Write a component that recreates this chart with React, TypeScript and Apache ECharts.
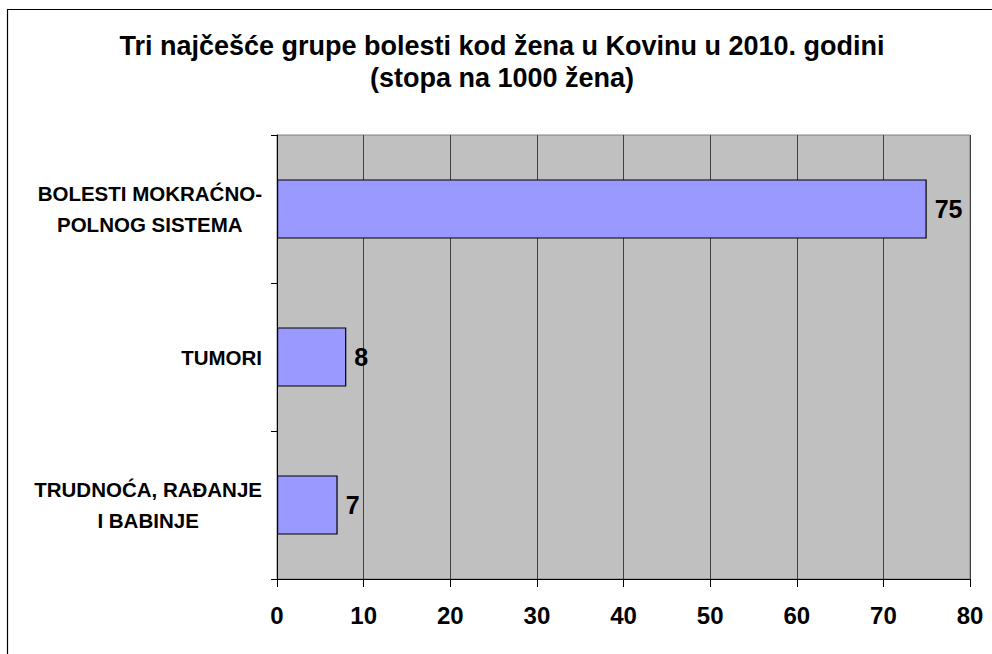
import React, { useEffect, useRef } from "react";
import * as echarts from "echarts";

const categories = [
  "BOLESTI MOKRAĆNO-\nPOLNOG SISTEMA",
  "TUMORI",
  "TRUDNOĆA, RAĐANJE\nI BABINJE",
];
const values = [75, 8, 7];
const titleLines = [
  "Tri najčešće grupe bolesti kod žena u Kovinu u 2010. godini",
  "(stopa na 1000 žena)",
];
const xMin = 0;
const xMax = 80;
const xStep = 10;

const FONT = "'Liberation Sans', Arial, sans-serif";

export default function App() {
  const ref = useRef<HTMLDivElement>(null);
  useEffect(() => {
    if (!ref.current) return;
    const chart = echarts.init(ref.current, null, { renderer: "svg" });
    chart.setOption({
      animation: false,
      backgroundColor: "#ffffff",
      textStyle: { fontFamily: FONT },
      title: {
        text: titleLines.join("\n"),
        left: 502,
        top: 30,
        padding: 0,
        textAlign: "center",
        textStyle: {
          fontFamily: FONT,
          fontSize: 27,
          fontWeight: "bold",
          color: "#000",
          lineHeight: 32,
        },
      },
      graphic: [
        {
          type: "rect",
          shape: { x: 7.5, y: 9.5, width: 1200, height: 1000 },
          style: { fill: "none", stroke: "#000", lineWidth: 1.2 },
          silent: true,
          z: 100,
        },
      ],
      grid: {
        left: 277,
        top: 135,
        right: 22,
        bottom: 75,
        show: true,
        backgroundColor: "#C0C0C0",
        borderColor: "#808080",
        borderWidth: 1,
      },
      xAxis: {
        type: "value",
        min: xMin,
        max: xMax,
        interval: xStep,
        axisLine: { show: true, lineStyle: { color: "#000", width: 1 } },
        axisTick: { show: true, length: 8, lineStyle: { color: "#000" } },
        splitLine: { show: true, lineStyle: { color: "#404040", width: 1 } },
        axisLabel: {
          margin: 24,
          fontFamily: FONT,
          fontSize: 24,
          fontWeight: "bold",
          color: "#000",
        },
      },
      yAxis: {
        type: "category",
        data: categories,
        inverse: true,
        axisLine: { show: true, lineStyle: { color: "#000", width: 1 } },
        axisTick: { show: true, length: 6, lineStyle: { color: "#000" } },
        splitLine: { show: false },
        axisLabel: {
          margin: 15,
          align: "right",
          fontFamily: FONT,
          fontSize: 20.5,
          fontWeight: "bold",
          color: "#000",
          lineHeight: 31,
          formatter: (v: string) =>
            v
              .split("\n")
              .map((l) => `{c|${l}}`)
              .join("\n"),
          rich: {
            c: {
              align: "center",
              fontFamily: FONT,
              fontSize: 20.5,
              fontWeight: "bold",
              color: "#000",
              lineHeight: 31,
            },
          },
        },
      },
      series: [
        {
          type: "bar",
          data: values,
          barWidth: "40%",
          itemStyle: { color: "#9999FF", borderColor: "#000", borderWidth: 1.2 },
          label: {
            show: true,
            position: "right",
            distance: 8,
            fontFamily: FONT,
            fontSize: 25,
            fontWeight: "bold",
            color: "#000",
          },
        },
      ],
    });
    return () => chart.dispose();
  }, []);
  return (
    <div
      ref={ref}
      style={{ position: "absolute", left: 0, top: 0, width: 992, height: 654 }}
    />
  );
}
